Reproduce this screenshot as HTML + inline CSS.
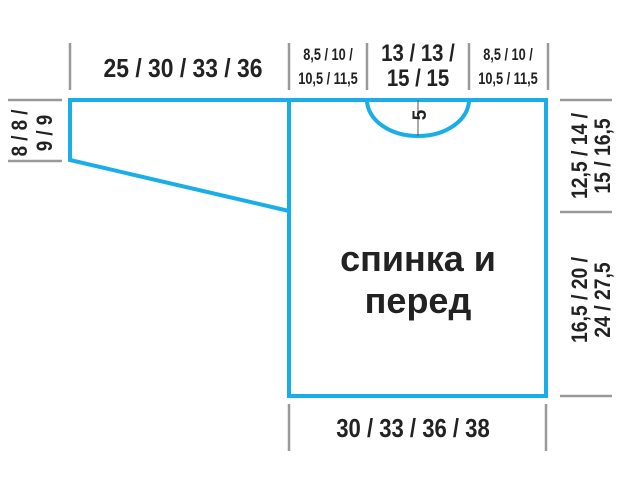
<!DOCTYPE html>
<html><head><meta charset="utf-8"><style>html,body{margin:0;padding:0;background:#fff}svg{display:block}</style></head><body>
<svg width="620" height="483" xmlns="http://www.w3.org/2000/svg" font-family="'Liberation Sans', sans-serif" font-weight="bold" fill="#222">
<g stroke="#999" stroke-width="2.5" fill="none">
<line x1="70" y1="43" x2="70" y2="90"/>
<line x1="289" y1="43" x2="289" y2="90"/>
<line x1="367" y1="43" x2="367" y2="90"/>
<line x1="469" y1="43" x2="469" y2="90"/>
<line x1="548" y1="43" x2="548" y2="90"/>
<line x1="8" y1="100" x2="62" y2="100"/>
<line x1="8" y1="161" x2="62" y2="161"/>
<line x1="560" y1="100" x2="612" y2="100"/>
<line x1="560" y1="212" x2="612" y2="212"/>
<line x1="560" y1="396" x2="612" y2="396"/>
<line x1="289" y1="404" x2="289" y2="451"/>
<line x1="546" y1="404" x2="546" y2="451"/>
</g>
<g stroke="#1aaee8" stroke-width="4" fill="none" stroke-linejoin="miter">
<polyline points="289,211 70,160 70,100 546,100 546,396 289,396 289,100"/>
<path d="M367,100 A51,36 0 0 0 469,100"/>
</g>
<line x1="418" y1="100" x2="418" y2="136" stroke="#555" stroke-width="1"/>
<g text-anchor="middle">
<text transform="translate(183 77) scale(0.88 1)" font-size="26">25 / 30 / 33 / 36</text>
<text transform="translate(418 61) scale(0.85 1)" font-size="24">13 / 13 /</text>
<text transform="translate(418 86) scale(0.85 1)" font-size="24">15 / 15</text>
<text transform="translate(413 437) scale(0.85 1)" font-size="26">30 / 33 / 36 / 38</text>
</g>
<g font-size="17" text-anchor="middle">
<text transform="translate(328 60) scale(0.75 1)">8,5 / 10 /</text>
<text transform="translate(328 84) scale(0.75 1)">10,5 / 11,5</text>
<text transform="translate(508 60) scale(0.75 1)">8,5 / 10 /</text>
<text transform="translate(508 84) scale(0.75 1)">10,5 / 11,5</text>
</g>
<g font-size="22" text-anchor="middle">
<text transform="translate(27 133) rotate(-90) scale(0.85 1)">8 / 8 /</text>
<text transform="translate(52 133) rotate(-90) scale(0.85 1)">9 / 9</text>
<text transform="translate(587 156) rotate(-90) scale(0.88 1)">12,5 / 14 /</text>
<text transform="translate(610 156) rotate(-90) scale(0.88 1)">15 / 16,5</text>
<text transform="translate(587 300) rotate(-90) scale(0.88 1)">16,5 / 20 /</text>
<text transform="translate(610 300) rotate(-90) scale(0.88 1)">24 / 27,5</text>
<text transform="translate(426 115) rotate(-90)" font-size="19">5</text>
</g>
<g font-size="36" text-anchor="middle" font-family="'Liberation Sans', 'DejaVu Sans', sans-serif">
<text x="418" y="271">спинка и</text>
<text x="418" y="313">перед</text>
</g>
</svg>
</body></html>
